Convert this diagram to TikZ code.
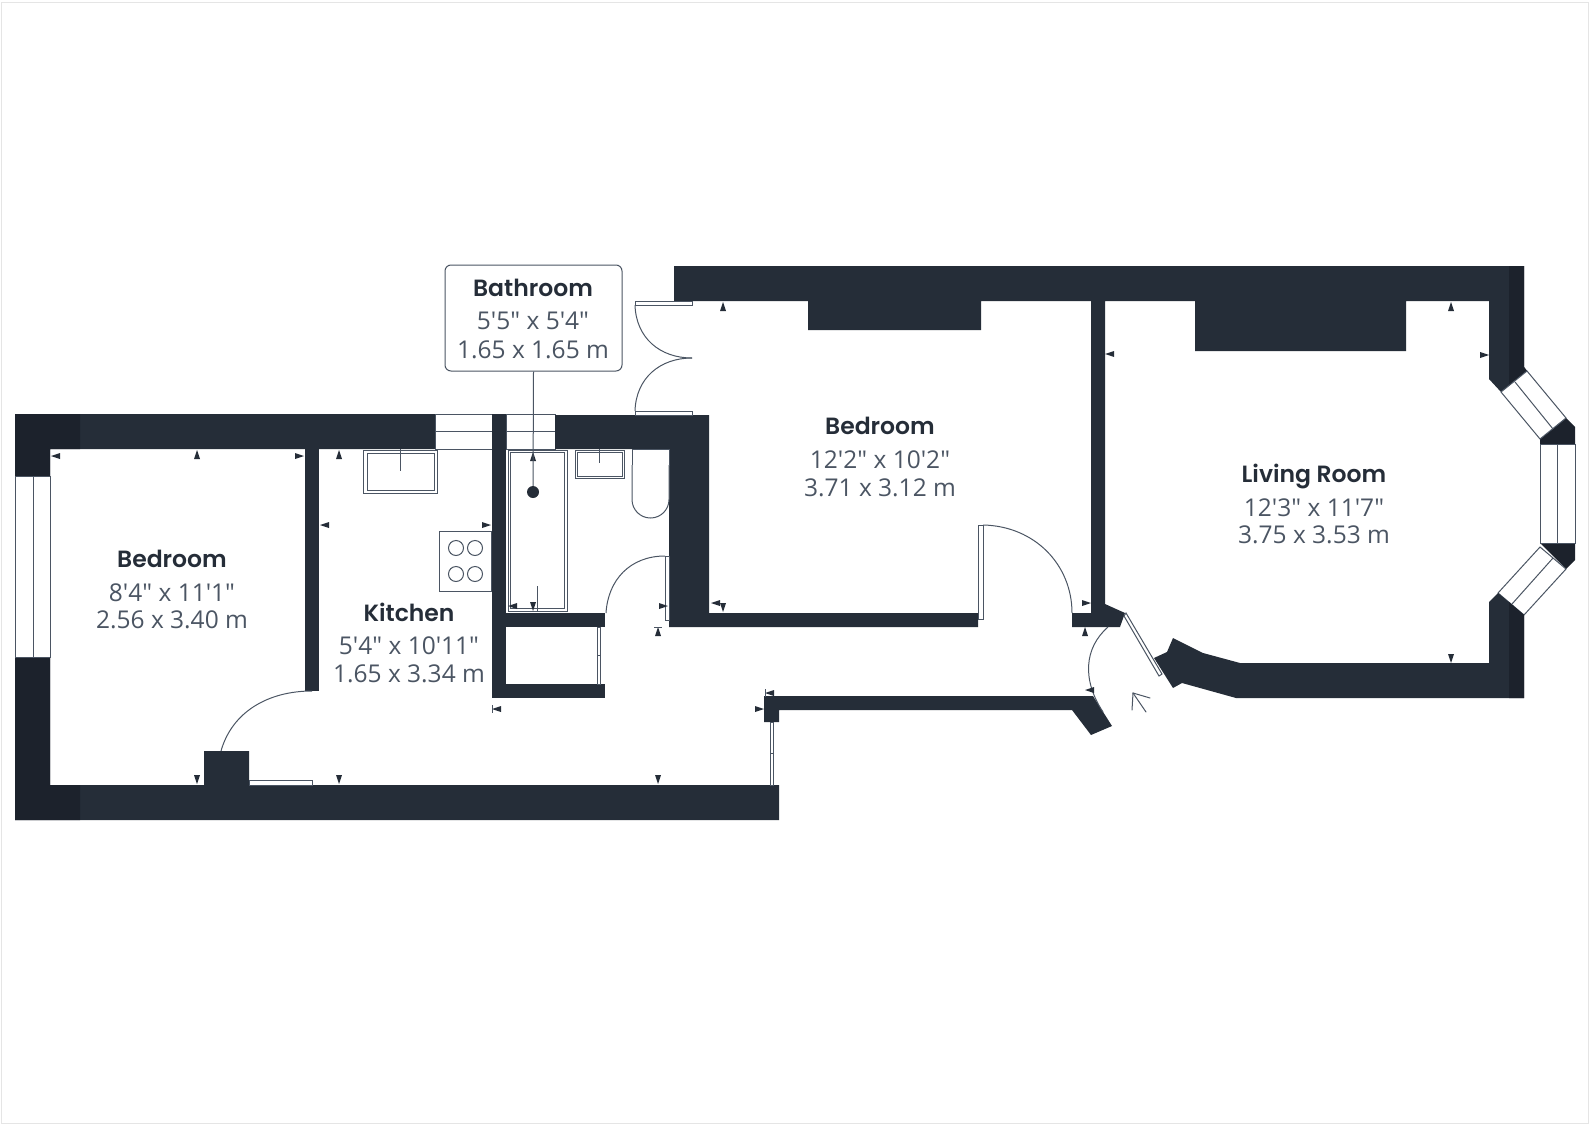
\documentclass[tikz,border=0pt]{standalone}
\usepackage{fontspec}
\setmainfont{Open Sans}[Ligatures=TeXOff]
\newfontfamily\titlefont{Poppins SemiBold}
\definecolor{wallc}{HTML}{252D38}
\definecolor{walldark}{HTML}{1C222C}
\definecolor{linec}{HTML}{4B5563}
\definecolor{dimc}{HTML}{4B5563}
\tikzset{
    wall/.style={fill=wallc, draw=none},
    wallshade/.style={fill=walldark, draw=none},
    glass/.style={fill=white, draw=linec, line width=1pt},
    fixture/.style={fill=white, draw=linec, line width=1pt},
    swing/.style={draw=linec, line width=1pt},
    roomname/.style={font=\titlefont\fontsize{23.5}{24}\selectfont, text=wallc, inner sep=0pt},
    roomsize/.style={font=\fontsize{24.5}{25}\selectfont, text=dimc, inner sep=0pt},
    tip/.style={fill=wallc, draw=none}
}
\begin{document}
\begin{tikzpicture}[x=1pt, y=-1pt]
        \useasboundingbox (0,0) rectangle (1590,1127);
        \draw[draw=black!10, line width=1.5pt] (1.5,2.5) rectangle (1588.5,1123.5);

        % Kitchen and left bedroom outer walls
        \fill[wall] (15,414) -- (435,414) -- (435,449) -- (50,449) -- (50,785) -- (204,785) -- (204,751) -- (249,751) -- (249,785) -- (779,785) -- (779,820) -- (15,820) -- cycle;
        \fill[wallshade] (15,414) -- (80,414) -- (80,449) -- (50,449) -- (50,785) -- (80,785) -- (80,820) -- (15,820) -- cycle;
        \fill[wall] (305,449) rectangle (319,691);

        % Left bedroom window
        \filldraw[glass] (15,476) rectangle (50,657);
        \draw[swing] (33,476) -- (33,657);

        % Kitchen and bathroom windows
        \filldraw[glass] (435,414) rectangle (492,449);
        \draw[swing] (435,431) -- (492,431);
        \filldraw[glass] (506,414) rectangle (555,449);
        \draw[swing] (506,431) -- (555,431);

        % Bathroom walls
        \fill[wall] (492,414) rectangle (506,698);
        \fill[wall] (555,415) -- (709,415) -- (709,613) -- (978,613) -- (978,627) -- (669,627) -- (669,449) -- (555,449) -- cycle;
        \fill[wall] (506,613) rectangle (605,627);
        \fill[wall] (492,684) rectangle (605,698);

        % Upper walls and chimney breasts
        \fill[wall] (674,266) -- (1524,266) -- (1524,367) -- (1527,371) -- (1501,392) -- (1489,379) -- (1489,301) -- (1406,301) -- (1406,351) -- (1195,351) -- (1195,301) -- (1105,301) -- (1105,604) -- (1125,613) -- (1120,627) -- (1072,627) -- (1072,613) -- (1091,613) -- (1091,301) -- (981,301) -- (981,330) -- (808,330) -- (808,301) -- (674,301) -- cycle;
        \fill[wallshade] (1509,266) -- (1524,266) -- (1524,367) -- (1527,371) -- (1509,386) -- cycle;

        % Bay window
        \fill[wallshade] (1540,439) -- (1566,418) -- (1575,427) -- (1575,444) -- (1540,444) -- cycle;
        \fill[wallshade] (1540,543) -- (1575,543) -- (1575,560) -- (1566,569) -- cycle;
        \filldraw[glass] (1501,392) -- (1527,371) -- (1566,418) -- (1540,439) -- cycle;
        \draw[swing] (1515,382) -- (1553,429);
        \filldraw[glass] (1540,444) rectangle (1575,543);
        \draw[swing] (1557,444) -- (1557,543);
        \filldraw[glass] (1540,547) -- (1566,569) -- (1524,615) -- (1498,593) -- cycle;
        \draw[swing] (1553,558) -- (1512,604);

        % Living room lower wall
        \fill[wall] (1489,602) -- (1498,593) -- (1524,615) -- (1524,698) -- (1236,698) -- (1182,683) -- (1173,688) -- (1154,658) -- (1167,652) -- (1173,638) -- (1203,653) -- (1240,663) -- (1489,663) -- cycle;
        \fill[wallshade] (1509,602) -- (1524,615) -- (1524,698) -- (1509,698) -- cycle;

        % Hall wall
        \fill[wall] (764,696) -- (1093,696) -- (1112,726) -- (1091,735) -- (1072,710) -- (779,710) -- (779,722) -- (764,722) -- cycle;

        % Doors
        \draw[swing] (221,751) .. controls (232,712) and (268,691) .. (312,691);
        \filldraw[fixture] (249,780) rectangle (312,785);
        \draw[swing] (635,305) .. controls (636,338) and (660,358) .. (692,358);
        \draw[swing] (635,411) .. controls (636,378) and (660,358) .. (692,358);
        \filldraw[fixture] (635,301) rectangle (692,305);
        \filldraw[fixture] (635,411) rectangle (692,415);
        \draw[swing] (606,613) .. controls (608,580) and (630,556) .. (665,556);
        \filldraw[fixture] (665,556) rectangle (669,620);
        \filldraw[fixture] (978,525) rectangle (983,619);
        \draw[swing] (983,525) .. controls (1035,526) and (1072,565) .. (1072,613);
        \filldraw[fixture] (1126,613) -- (1124,616) -- (1159,676) -- (1162,674) -- cycle;
        \draw[swing] (1108,627) .. controls (1084,648) and (1082,680) .. (1103,712);
        \filldraw[fixture] (597,627) rectangle (600,684);
        \draw[swing] (597,655) -- (600,655);
        \filldraw[fixture] (770,722) rectangle (773,785);
        \draw[swing] (770,753) -- (773,753);

        % Entrance arrow
        \draw[swing, line cap=round] (1146,712) -- (1133,693);
        \draw[swing, line cap=round] (1132,710) -- (1133,693) -- (1150,698);

        % Kitchen sink
        \draw[fixture] (363,450) rectangle (437,493);
        \draw[fixture] (367,453) rectangle (434,490);
        \draw[swing] (400,449) -- (400,471);

        % Hob
        \draw[fixture] (439,531) rectangle (491,591);
        \foreach \cx in {456,475} {
            \foreach \cy in {548,574} {
                \draw[swing] (\cx,\cy) circle (7.5);
            }
        }

        % Bath
        \draw[fixture] (508,450) rectangle (567,611);
        \draw[fixture] (510,452) rectangle (564,608);
        \draw[swing] (537,586) -- (537,611);

        % Bathroom sink
        \draw[fixture] (575,450) rectangle (624,478);
        \draw[fixture] (577,452) rectangle (622,476);
        \draw[swing] (599,449) -- (599,463);

        % Toilet
        \draw[fixture] (632,449) rectangle (669,465);
        \draw[fixture] (632,465) -- (632,499.5) arc[start angle=180, end angle=0, radius=18.5] -- (669,465);

        % Measure tips
        \foreach \px/\py in {197/450, 339/450, 533/452, 723/302, 1451/302, 658/627, 1085/627} {
            \fill[tip] (\px,\py) -- ++(3,9) -- ++(-6,0) -- cycle;
        }
        \foreach \px/\py in {197/784, 339/784, 533/611, 723/612, 658/784, 1451/663} {
            \fill[tip] (\px,\py) -- ++(3,-9) -- ++(-6,0) -- cycle;
        }
        \foreach \px/\py in {51/456, 320/525, 508/606, 711/603, 492/709, 765/693, 1105/354, 1085/690} {
            \fill[tip] (\px,\py) -- ++(9,3) -- ++(0,-6) -- cycle;
        }
        \foreach \px/\py in {304/456, 491/525, 668/606, 1091/603, 764/709, 1489/355} {
            \fill[tip] (\px,\py) -- ++(-9,3) -- ++(0,-6) -- cycle;
        }
        \draw[swing] (492,705) -- (492,713);
        \draw[swing] (654,627) -- (662,627);
        \draw[swing] (765,689) -- (765,697);

        % Room labels
        \node[roomname] (bedroomleft) at (172,559) {Bedroom};
        \node[roomsize] (bedroomleftsize) at (172,593) {8'4" x 11'1"};
        \node[roomsize] (bedroomleftmetric) at (172,620) {2.56 x 3.40 m};

        \node[roomname] (kitchen) at (409,612) {Kitchen};
        \node[roomsize] (kitchensize) at (409,646) {5'4" x 10'11"};
        \node[roomsize] (kitchenmetric) at (409,674) {1.65 x 3.34 m};

        \node[roomname] (bedroommid) at (880,426) {Bedroom};
        \node[roomsize] (bedroommidsize) at (880,460) {12'2" x 10'2"};
        \node[roomsize] (bedroommidmetric) at (880,488) {3.71 x 3.12 m};

        \node[roomname] (living) at (1314,476) {Living Room};
        \node[roomsize] (livingsize) at (1314,508) {12'3" x 11'7"};
        \node[roomsize] (livingmetric) at (1314,535) {3.75 x 3.53 m};

        % Bathroom callout
        \node[draw=linec, line width=1pt, fill=white, rounded corners=6pt, minimum width=177pt, minimum height=106pt, inner sep=0pt] (bathbox) at (533.5,318) {};
        \node[roomname] (bathroom) at (533,288) {Bathroom};
        \node[roomsize] (bathroomsize) at (533,321) {5'5" x 5'4"};
        \node[roomsize] (bathroommetric) at (533,350) {1.65 x 1.65 m};
        \node[circle, fill=wallc, minimum size=12pt, inner sep=0pt] (bathdot) at (533,492) {};
        \draw[swing] (bathbox.south) -- (bathdot);
\end{tikzpicture}
\end{document}
